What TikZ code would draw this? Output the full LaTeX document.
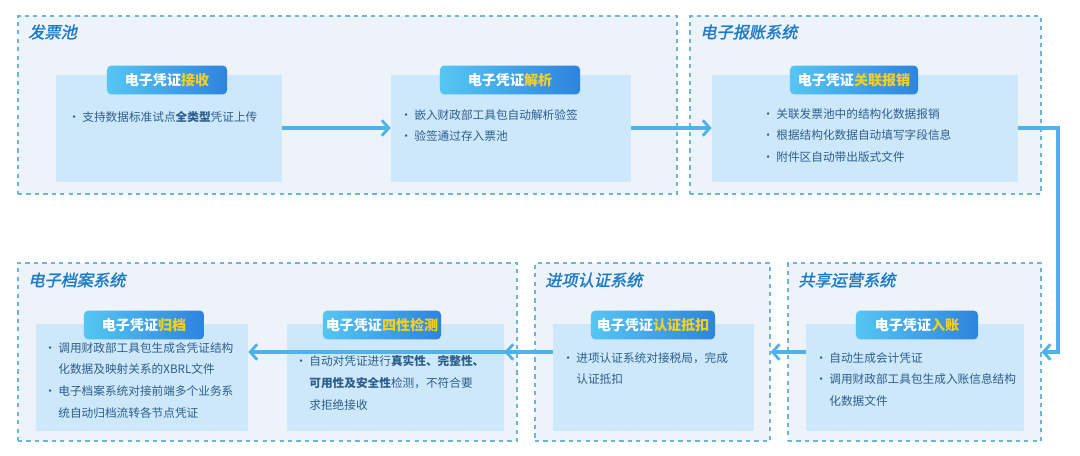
\documentclass[tikz,border=0pt]{standalone}
\usepackage{fontspec}
\setmainfont{Noto Sans CJK SC}
\newfontfamily\slantcjk[FakeSlant=0.22,FakeBold=1.5]{Noto Sans CJK SC}
\usetikzlibrary{fit,arrows.meta}
\definecolor{grpfill}{HTML}{EEF2F9}
\definecolor{grpline}{HTML}{6BB7DC}
\definecolor{boxfill}{HTML}{CDE8FB}
\definecolor{arr}{HTML}{4DB3EA}
\definecolor{ttl}{HTML}{1A7CC8}
\definecolor{hl}{HTML}{F5D020}
\definecolor{bodytx}{HTML}{2D5E8C}
\definecolor{tabl}{HTML}{55C6F2}
\definecolor{tabr}{HTML}{2E84DE}
\newcommand{\bul}{\makebox[10pt][l]{•}}
\newcommand{\ind}{\hspace*{10pt}}
\newcommand{\hl}[1]{\textcolor{hl}{#1}}
\begin{document}
\begin{tikzpicture}[x=0.025cm,y=-0.025cm,
 grp/.style={draw=grpline,dashed,line width=0.8pt,fill=grpfill,inner sep=0pt},
 inbox/.style={fill=boxfill,inner sep=0pt},
 tab/.style={rounded corners=3pt,left color=tabl,right color=tabr,inner sep=0pt,text=white,font=\fontsize{10}{12}\selectfont\bfseries},
 gtitle/.style={anchor=west,text=ttl,font=\fontsize{11.5}{13}\selectfont\slantcjk,inner sep=0pt},
 body/.style={anchor=north west,align=left,text=bodytx,font=\fontsize{8.3}{15.5}\selectfont,inner sep=0pt},
 flow/.style={draw=arr,line width=2.2pt,-{Straight Barb[length=5pt,width=11pt,line width=2pt]}}]
\useasboundingbox (0,0) rectangle (1080,455);
\fill[white] (0,0) rectangle (1080,455);
% groups
\node[grp,fit={(18,16)(677,194)}] (g1) {};
\node[grp,fit={(690,16)(1041,194)}] (g2) {};
\node[grp,fit={(18,263)(517,441)}] (g3) {};
\node[grp,fit={(535,263)(770,441)}] (g4) {};
\node[grp,fit={(788,263)(1041,441)}] (g5) {};
\node[gtitle] (t1) at (28,32) {发票池};
\node[gtitle] (t2) at (700,32) {电子报账系统};
\node[gtitle] (t3) at (28,280) {电子档案系统};
\node[gtitle] (t4) at (545,280) {进项认证系统};
\node[gtitle] (t5) at (798,280) {共享运营系统};
% inner boxes
\node[inbox,fit={(56,75)(282,182)}] (b1) {};
\node[inbox,fit={(391,75)(631,182)}] (b2) {};
\node[inbox,fit={(712,75)(1018,182)}] (b3) {};
\node[inbox,fit={(36,324)(248,431)}] (b4) {};
\node[inbox,fit={(287,324)(504,431)}] (b5) {};
\node[inbox,fit={(553,324)(754,431)}] (b6) {};
\node[inbox,fit={(806,324)(1024,431)}] (b7) {};
% tabs
\node[tab,minimum width=3cm,minimum height=0.72cm] (k1) at (167,80) {电子凭证\hl{接收}};
\node[tab,minimum width=3.5cm,minimum height=0.72cm] (k2) at (510,80) {电子凭证\hl{解析}};
\node[tab,minimum width=3.2cm,minimum height=0.72cm] (k3) at (854,80) {电子凭证\hl{关联报销}};
\node[tab,minimum width=3cm,minimum height=0.72cm] (k4) at (144,325) {电子凭证\hl{归档}};
\node[tab,minimum width=2.95cm,minimum height=0.72cm] (k5) at (382,325) {电子凭证\hl{四性检测}};
\node[tab,minimum width=3.1cm,minimum height=0.72cm] (k6) at (653,325) {电子凭证\hl{认证抵扣}};
\node[tab,minimum width=3.05cm,minimum height=0.72cm] (k7) at (917,325) {电子凭证\hl{入账}};
% texts
\node[body] (x1) at (68,111) {\bul 支持数据标准试点\textbf{全类型}凭证上传};
\node[body] (x2) at (400,109) {\bul 嵌入财政部工具包自动解析验签\\\bul 验签通过存入票池};
\node[body] (x3) at (762,108) {\bul 关联发票池中的结构化数据报销\\\bul 根据结构化数据自动填写字段信息\\\bul 附件区自动带出版式文件};
\node[body] (x4) at (44,342) {\bul 调用财政部工具包生成含凭证结构\\\ind 化数据及映射关系的XBRL文件\\\bul 电子档案系统对接前端多个业务系\\\ind 统自动归档流转各节点凭证};
\node[body] (x5) at (295,355) {\bul 自动对凭证进行\textbf{真实性、完整性、}\\\ind \textbf{可用性及安全性}检测，不符合要\\\ind 求拒绝接收};
\node[body] (x6) at (562,352) {\bul 进项认证系统对接税局，完成\\\ind 认证抵扣};
\node[body] (x7) at (815,352) {\bul 自动生成会计凭证\\\bul 调用财政部工具包生成入账信息结构\\\ind 化数据文件};
% arrows
\draw[flow] (b1.east |- 0,128) -- (b2.west |- 0,128);
\draw[flow] (b2.east |- 0,128) -- (b3.west |- 0,128);
\draw[flow] (b3.east |- 0,128) -- (1058,128) |- (g5.east);
\draw[flow] (g5.west -| b7.west) -- (g4.east);
\draw[flow] (g4.west -| b6.west) -- (b5.east |- g4.west);
\draw[flow] (g3.east |- g4.west) -- (b4.east |- g4.west);
\end{tikzpicture}
\end{document}
